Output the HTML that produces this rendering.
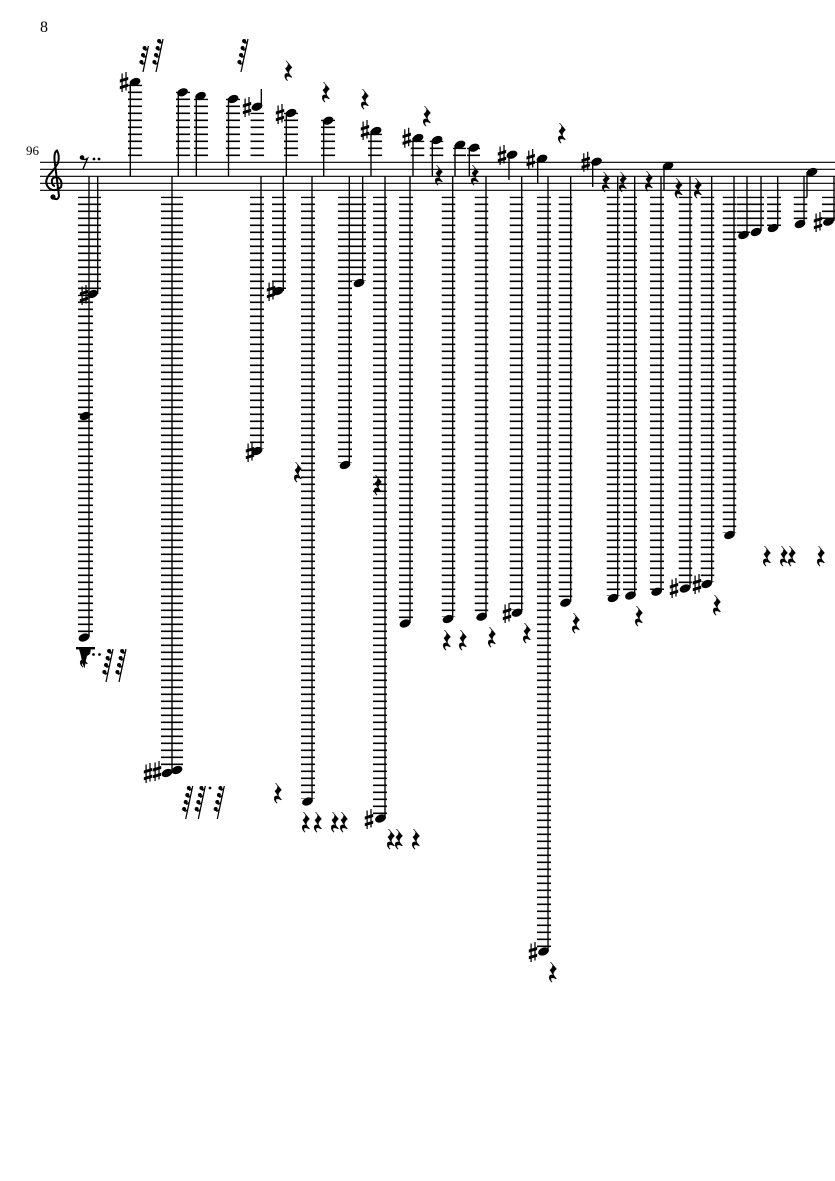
<!DOCTYPE html>
<html><head><meta charset="utf-8"><style>
html,body{margin:0;padding:0;background:#fff}
svg{display:block}
text{font-family:"Liberation Serif",serif;fill:#000}
.st{stroke:#000;stroke-width:1.35;fill:none}
.l{stroke:#000;fill:none;stroke-dasharray:1.6 5.4;stroke-dashoffset:.15}
</style></head><body>
<svg width="835" height="1181" viewBox="0 0 835 1181" xmlns="http://www.w3.org/2000/svg">
<defs>
<ellipse id="h" cx="0" cy="0" rx="5.6" ry="3.8" transform="rotate(-22)"/>
<g id="s"><path d="M-1.9-8.5V10M2-10V8.5" stroke="#000" stroke-width="1.25" fill="none"/><path d="M-4.2-2.5L4.2-5.1V-2L-4.2 .6zM-4.2 4.2L4.2 1.6V4.7L-4.2 7.3z"/></g>
<path id="r" stroke="#000" stroke-width=".35" d="M-2.2-10L3.6-3Q1-1 .4 1.5Q.4 3.5 3.6 6.5L3 7Q-.5 5-2 6.5Q-2.6 8-.8 10L-1.4 10.3Q-5 6.5-3.4 3.6Q-2 2.2 .2 3.2L-3.2-2Q-.5-4-.3-6.5Q-.6-8-2.6-9.6z"/>
<g id="r3"><path d="M0 0L5.4-26M5-24Q3.8-21.5 1.8-22M3.6-17Q2.4-14.5 .2-15M2.1-10Q1-7.5-1.4-8" stroke="#000" stroke-width="1.25" fill="none"/><circle cx="1.6" cy="-24" r="2"/><circle cx="0" cy="-17" r="2"/><circle cx="-1.6" cy="-10" r="2"/></g>
<g id="r4"><path d="M0 0L7-33M6.6-31Q5.4-28.5 3.4-29M5-24Q3.8-21.5 1.8-22M3.6-17Q2.4-14.5 .2-15M2.1-10Q1-7.5-1.4-8" stroke="#000" stroke-width="1.25" fill="none"/><circle cx="3.1" cy="-31" r="2"/><circle cx="1.6" cy="-24" r="2"/><circle cx="0" cy="-17" r="2"/><circle cx="-1.6" cy="-10" r="2"/></g>
</defs>
<rect width="835" height="1181" fill="#fff"/>
<text x="40" y="32" font-size="16">8</text>
<text x="26" y="155" font-size="13">96</text>
<path d="M40 162.3H835M40 169.3H835M40 176.3H835M40 183.3H835M40 190.3H835" stroke="#000" stroke-width="1.1"/>

<!-- clef -->
<path d="M53 198Q58 201 59 196L54.5 160Q54 152 57 150.5Q60 156 58 163Q54 170 49 175Q43 183 50 189Q56 192 61 187Q63 180 57 177Q51 177 52 183Q53 186 55 186" fill="none" stroke="#000" stroke-width="2"/>
<circle cx="53" cy="197" r="2.6"/>
<!-- eighth rest -->
<circle cx="82" cy="157.5" r="2.3"/>
<path d="M82 159Q85 160 87.5 158.5L83 169" fill="none" stroke="#000" stroke-width="1.4"/>
<circle cx="94" cy="159" r="1.4"/><circle cx="99" cy="159" r="1.4"/>

<!-- ledgers below -->
<g class="l">
<path d="M89.5 196.7V291" stroke-width="23"/>
<path d="M85.5 294.7V634" stroke-width="15"/>
<path d="M172 196.7V768" stroke-width="22"/>
<path d="M257 196.7V449" stroke-width="14"/>
<path d="M279 196.7V289" stroke-width="14"/>
<path d="M308 196.7V799" stroke-width="14"/>
<path d="M345 196.7V463" stroke-width="14"/>
<path d="M359 196.7V281" stroke-width="14"/>
<path d="M380 196.7V816" stroke-width="14"/>
<path d="M406 196.7V621" stroke-width="14"/>
<path d="M448.5 196.7V617" stroke-width="13.5"/>
<path d="M481.5 196.7V614" stroke-width="13.5"/>
<path d="M516.5 196.7V610" stroke-width="13.5"/>
<path d="M544 196.7V949" stroke-width="14"/>
<path d="M565.5 196.7V601" stroke-width="13.5"/>
<path d="M613.5 196.7V596" stroke-width="13.5"/>
<path d="M630 196.7V593" stroke-width="14"/>
<path d="M657 196.7V590" stroke-width="14"/>
<path d="M685.5 196.7V586" stroke-width="13.5"/>
<path d="M707.5 196.7V582" stroke-width="13.5"/>
<path d="M729.5 196.7V533" stroke-width="13.5"/>
<path d="M743.5 196.7V233" stroke-width="13.5"/>
<path d="M757 196.7V230" stroke-width="14"/>
<path d="M774 196.7V226" stroke-width="14"/>
<path d="M800.5 196.7V222" stroke-width="13.5"/>
<path d="M829 196.7V219" stroke-width="14"/>
<!-- ledgers above -->
<path d="M135 84.7V156.5" stroke-width="14"/>
<path d="M183 91.7V156.5" stroke-width="14"/>
<path d="M201 98.7V156.5" stroke-width="14"/>
<path d="M233 98.7V156.5" stroke-width="14"/>
<path d="M257.3 112.7V156.5" stroke-width="13.5"/>
<path d="M291 112.7V156.5" stroke-width="14"/>
<path d="M328 119.7V156.5" stroke-width="14"/>
<path d="M375 133.7V156.5" stroke-width="14"/>
<path d="M417.5 140.7V156.5" stroke-width="13.5"/>
<path d="M436.5 140.7V156.5" stroke-width="13.5"/>
<path d="M459.5 147.7V156.5" stroke-width="13"/>
<path d="M473.5 147.7V156.5" stroke-width="13"/>
</g>

<!-- stems -->
<path class="st" d="M130.3 84V176M178.3 92V176M196.3 96V176M228.5 99V176M286.3 113V176M323.7 120V176M371 131V176M413 138V176M432.3 140V176M455 145V176M469.3 148V176M261.3 89V106M509 155V180M537.7 159V183M592.7 162V187M664 166V190M807 172V197"/>
<path class="st" d="M89 176V637M97.7 176V294M172 176V770M261 176V451M283.3 176V291M312 176V801M349.3 176V465M362.7 176V283M385 176V818M410 176V623M452.7 176V618M486 176V616M521.7 176V612M548 176V951M570.7 176V602M617.7 176V597M634.7 176V595M661 176V591M690 176V588M711.7 176V583M734 176V534M747 176V234M761 176V231M777.7 176V227M804 176V223M834 176V221"/>

<!-- heads -->
<use href="#h" x="135" y="82"/><use href="#h" x="182.5" y="92.3"/><use href="#h" x="200.5" y="96"/><use href="#h" x="233" y="99"/><use href="#h" x="257" y="106.7"/><use href="#h" x="291" y="113"/><use href="#h" x="328" y="120.7"/><use href="#h" x="376" y="131"/><use href="#h" x="418" y="138"/><use href="#h" x="437" y="140"/><use href="#h" x="460" y="144.7"/><use href="#h" x="474" y="147.7"/><use href="#h" x="512" y="154.7"/><use href="#h" x="542" y="158.7"/><use href="#h" x="596.5" y="161.7"/><use href="#h" x="668" y="166"/><use href="#h" x="812" y="172"/>
<use href="#h" x="92.5" y="294"/><use href="#h" x="85" y="416"/><use href="#h" x="84" y="637.5"/><use href="#h" x="167" y="773"/><use href="#h" x="177" y="770"/><use href="#h" x="257" y="451"/><use href="#h" x="278" y="291"/><use href="#h" x="307.5" y="801.5"/><use href="#h" x="345" y="465"/><use href="#h" x="359" y="283"/><use href="#h" x="380.5" y="818.5"/><use href="#h" x="405" y="623.5"/><use href="#h" x="448" y="619"/><use href="#h" x="481.7" y="616.7"/><use href="#h" x="517" y="612.7"/><use href="#h" x="543.5" y="951.5"/><use href="#h" x="565.5" y="602.7"/><use href="#h" x="613" y="598"/><use href="#h" x="630.5" y="595.5"/><use href="#h" x="656.7" y="591.7"/><use href="#h" x="685" y="588.5"/><use href="#h" x="706.7" y="584"/><use href="#h" x="729.5" y="535"/><use href="#h" x="743.5" y="235"/><use href="#h" x="756" y="232"/><use href="#h" x="773" y="228"/><use href="#h" x="800" y="224"/><use href="#h" x="828.5" y="221.7"/>

<!-- sharps -->
<use href="#s" x="124" y="82"/><use href="#s" x="247" y="107"/><use href="#s" x="280" y="114"/><use href="#s" x="365" y="130"/><use href="#s" x="406.7" y="137.7"/><use href="#s" x="502" y="155"/><use href="#s" x="530.7" y="159"/><use href="#s" x="585.7" y="161.7"/>
<use href="#s" x="84" y="295"/><use href="#s" x="271" y="291"/><use href="#s" x="250" y="452"/><use href="#s" x="148" y="773"/><use href="#s" x="157" y="771"/><use href="#s" x="369" y="819"/><use href="#s" x="507" y="613"/><use href="#s" x="533" y="952"/><use href="#s" x="674" y="588"/><use href="#s" x="697" y="584"/><use href="#s" x="818" y="222"/>

<!-- quarter rests -->
<use href="#r" x="288.5" y="70.5"/><use href="#r" x="326" y="92"/><use href="#r" x="365" y="99"/><use href="#r" x="427" y="116"/><use href="#r" x="439" y="175"/><use href="#r" x="475" y="175"/><use href="#r" x="562" y="133"/><use href="#r" x="606" y="181.7"/><use href="#r" x="623" y="181.7"/><use href="#r" x="649" y="181"/><use href="#r" x="678.7" y="188"/><use href="#r" x="698" y="188"/>
<use href="#r" x="298" y="472"/><use href="#r" x="378" y="485"/>
<use href="#r" x="447" y="640"/><use href="#r" x="463" y="640"/><use href="#r" x="492" y="637"/><use href="#r" x="527" y="633"/><use href="#r" x="576" y="623"/><use href="#r" x="639" y="616"/><use href="#r" x="717" y="605"/><use href="#r" x="767" y="556"/><use href="#r" x="784" y="556"/><use href="#r" x="792" y="556"/><use href="#r" x="821" y="556"/>
<use href="#r" x="278" y="793"/><use href="#r" x="306" y="822"/><use href="#r" x="318" y="822"/><use href="#r" x="335" y="822"/><use href="#r" x="344" y="822"/><use href="#r" x="391" y="839"/><use href="#r" x="399" y="839"/><use href="#r" x="416" y="839"/><use href="#r" x="553" y="972"/>

<!-- multi-flag rests -->
<use href="#r3" x="143" y="72"/><use href="#r4" x="156" y="72"/><use href="#r4" x="241" y="72"/>
<use href="#r4" x="106" y="682"/><use href="#r4" x="119" y="682"/>
<use href="#r4" x="185.7" y="819"/><use href="#r4" x="198.3" y="819"/><use href="#r4" x="217.3" y="819"/>
<circle cx="210" cy="788" r="1.4"/>

<!-- clustered block under first column -->
<rect x="76" y="647" width="19" height="2.4"/>
<path d="M79 649H91L90 654L87 656L86 660L84.5 668.5L82 662L81 656z"/>
<use href="#r" x="84" y="657"/>
<circle cx="93.5" cy="654.5" r="1.4"/><circle cx="99.5" cy="654.5" r="1.4"/>
</svg>
</body></html>
